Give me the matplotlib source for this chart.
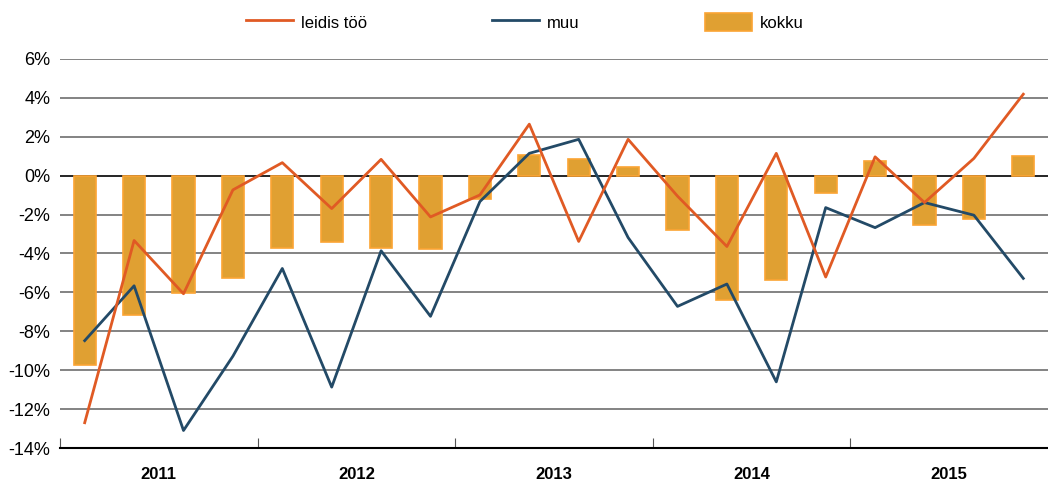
import matplotlib
matplotlib.use("Agg")
import matplotlib.pyplot as plt
import numpy as np
from matplotlib.ticker import FuncFormatter

plt.rcParams["font.family"] = ["Liberation Sans", "DejaVu Sans"]

years = ["2011", "2012", "2013", "2014", "2015"]
quarters_per_year = 4

# quarterly change, %
kokku = [-9.74, -7.16, -6.03, -5.25,
         -3.72, -3.42, -3.72, -3.78,
         -1.18, 1.06, 0.84, 0.43,
         -2.78, -6.37, -5.38, -0.87,
         0.77, -2.54, -2.22, 0.99]
leidis_too = [-12.7, -3.33, -6.07, -0.73,
              0.67, -1.69, 0.84, -2.12,
              -0.99, 2.65, -3.38, 1.87,
              -1.05, -3.64, 1.15, -5.21,
              0.97, -1.38, 0.89, 4.19]
muu = [-8.48, -5.66, -13.1, -9.28,
       -4.77, -10.87, -3.86, -7.23,
       -1.33, 1.15, 1.87, -3.18,
       -6.72, -5.57, -10.6, -1.64,
       -2.67, -1.38, -2.03, -5.28]

ORANGE = "#E05A24"
BLUE = "#234A67"
BAR_FILL = "#E0A032"
BAR_EDGE = "#FBA434"

fig = plt.figure(figsize=(10.48, 4.9), dpi=100)
ax = fig.add_axes([60 / 1048, 42 / 490, 988 / 1048, 389 / 490])

x = np.arange(len(kokku)) + 0.5
ax.bar(x, kokku, width=0.45, color=BAR_FILL, edgecolor=BAR_EDGE, linewidth=1.2,
       label="kokku", zorder=2)
ax.plot(x, leidis_too, color=ORANGE, linewidth=2, label="leidis töö", zorder=4)
ax.plot(x, muu, color=BLUE, linewidth=2, label="muu", zorder=3)

ax.set_xlim(0, len(kokku))
ax.set_ylim(-14, 6)
ax.set_yticks(np.arange(-14, 7, 2))
ax.yaxis.set_major_formatter(FuncFormatter(lambda v, _: f"{v:.0f}%"))
for yv in np.arange(-12, 7, 2):
    ax.axhline(yv, color="black" if yv == 0 else "#6e6e6e", linewidth=1.2, zorder=1)

ax.set_xticks(np.arange(0, len(kokku), quarters_per_year))
ax.set_xticklabels([])
ax.tick_params(axis="x", direction="in", length=7, width=0.8, color="#555555")
ax.tick_params(axis="y", length=0, labelsize=13, pad=7)
for i, yr in enumerate(years):
    ax.text(i * quarters_per_year + quarters_per_year / 2, -15.0, yr,
            ha="center", va="top", fontsize=12, fontweight="bold")

for side in ["top", "right", "left"]:
    ax.spines[side].set_visible(False)
ax.spines["bottom"].set_linewidth(1.5)

fig.legend(loc="center", bbox_to_anchor=(525 / 1048, 1 - 22 / 490), ncol=3,
           frameon=False, fontsize=12, handlelength=2.8, handleheight=1.3,
           columnspacing=7.5, handletextpad=0.5)

fig.savefig("out.png", dpi=100)
